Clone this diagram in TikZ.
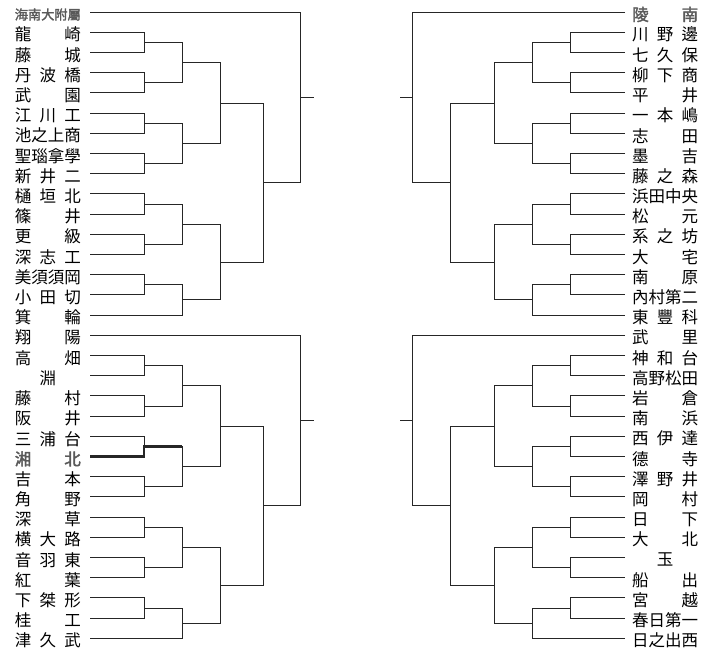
\documentclass[tikz,border=0pt]{standalone}
\usepackage{fontspec}
\setmainfont{Noto Sans CJK JP}
\newfontfamily\hlfont[FakeBold=2]{Noto Sans CJK JP}
\usetikzlibrary{calc,positioning}

\newcommand\hl[1]{{\hlfont\color{black!65}#1}}
% two entries meet in column #3, the winner goes on from #4
\newcommand\bout[4]{%
  \draw[bline] (#1) -- (#1 -| #3) -- (#2 -| #3) -- (#2);
  \coordinate (#4) at ($(#1 -| #3)!.5!(#2 -| #3)$);}

\begin{document}
\begin{tikzpicture}[x=1pt,y=-1pt,
    bline/.style={draw=black!85,line width=0.8pt},
    win/.style={draw=black!85,line width=2.4pt},
    tname/.style={inner sep=0pt,font=\fontsize{16.5}{18}\selectfont,yshift=-2.5pt}]
\useasboundingbox (0,0) rectangle (720,670);
% columns
\coordinate (cL1) at (144,0);
\coordinate (cL2) at (182,0);
\coordinate (cL3) at (220,0);
\coordinate (cL4) at (263,0);
\coordinate (cL5) at (300,0);
\coordinate (oL) at (314,0);
\coordinate (cR1) at (570,0);
\coordinate (cR2) at (532,0);
\coordinate (cR3) at (494,0);
\coordinate (cR4) at (450,0);
\coordinate (cR5) at (412,0);
\coordinate (oR) at (400,0);
% left names
\foreach \nm [count=\i] in {{\makebox[66pt][s]{\fontsize{13.2}{14}\selectfont\hl{海南大附屬}}},
    龍 崎, 藤 城, 丹 波 橋, 武 園, 江 川 工, 池之上商, 聖瑙拿學, 新 井 二,
    樋 垣 北, 篠 井, 更 級, 深 志 工, 美須須岡, 小 田 切, 箕 輪,
    翔 陽, 高 畑, \hfil 淵\hfil, 藤 村, 阪 井, 三 浦 台, \hl{湘 北}, 吉 本,
    角 野, 深 草, 横 大 路, 音 羽 東, 紅 葉, 下 桀 形, 桂 工, 津 久 武} {
  \coordinate (la\i) at (90,{12+20.2*(\i-1)});
  \node[tname,left=9pt of la\i] (L\i) {\makebox[66pt][s]{\nm}};
}
% right names
\foreach \nm [count=\i] in {\hl{陵 南}, 川 野 邊, 七 久 保, 柳 下 商, 平 井,
    一 本 嶋, 志 田, 墨 吉, 藤 之 森, 浜田中央, 松 元, 系 之 坊, 大 宅,
    南 原, 內村第二, 東 豐 科,
    武 里, 神 和 台, 高野松田, 岩 倉, 南 浜, 西 伊 達, 德 寺, 澤 野 井,
    岡 村, 日 下, 大 北, \hfil 玉\hfil, 船 出, 宮 越, 春日第一, 日之出西} {
  \coordinate (ra\i) at (625,{12+20.2*(\i-1)});
  \node[tname,right=7pt of ra\i] (R\i) {\makebox[66pt][s]{\nm}};
}
% left, upper half
\bout{la2}{la3}{cL1}{l1}
\bout{la4}{la5}{cL1}{l2}
\bout{l1}{l2}{cL2}{l3}
\bout{la6}{la7}{cL1}{l4}
\bout{la8}{la9}{cL1}{l5}
\bout{l4}{l5}{cL2}{l6}
\bout{l3}{l6}{cL3}{l7}
\bout{la10}{la11}{cL1}{l8}
\bout{la12}{la13}{cL1}{l9}
\bout{l8}{l9}{cL2}{l10}
\bout{la14}{la15}{cL1}{l11}
\bout{l11}{la16}{cL2}{l12}
\bout{l10}{l12}{cL3}{l13}
\bout{l7}{l13}{cL4}{l14}
\bout{la1}{l14}{cL5}{l15}
\draw[bline] (l15) -- (l15 -| oL);
% left, lower half
\bout{la18}{la19}{cL1}{b1}
\bout{la20}{la21}{cL1}{b2}
\bout{b1}{b2}{cL2}{b3}
\bout{la22}{la23}{cL1}{b4}
\bout{la24}{la25}{cL1}{b5}
\bout{b4}{b5}{cL2}{b6}
\bout{b3}{b6}{cL3}{b7}
\bout{la26}{la27}{cL1}{b8}
\bout{la28}{la29}{cL1}{b9}
\bout{b8}{b9}{cL2}{b10}
\bout{la30}{la31}{cL1}{b11}
\bout{b11}{la32}{cL2}{b12}
\bout{b10}{b12}{cL3}{b13}
\bout{b7}{b13}{cL4}{b14}
\bout{la17}{b14}{cL5}{b15}
\draw[bline] (b15) -- (b15 -| oL);
\draw[win] (la23) -- (la23 -| cL1) -- (b4) -- (b4 -| cL2); % first win
% right, upper half
\bout{ra2}{ra3}{cR1}{r1}
\bout{ra4}{ra5}{cR1}{r2}
\bout{r1}{r2}{cR2}{r3}
\bout{ra6}{ra7}{cR1}{r4}
\bout{ra8}{ra9}{cR1}{r5}
\bout{r4}{r5}{cR2}{r6}
\bout{r3}{r6}{cR3}{r7}
\bout{ra10}{ra11}{cR1}{r8}
\bout{ra12}{ra13}{cR1}{r9}
\bout{r8}{r9}{cR2}{r10}
\bout{ra14}{ra15}{cR1}{r11}
\bout{r11}{ra16}{cR2}{r12}
\bout{r10}{r12}{cR3}{r13}
\bout{r7}{r13}{cR4}{r14}
\bout{ra1}{r14}{cR5}{r15}
\draw[bline] (r15) -- (r15 -| oR);
% right, lower half
\bout{ra18}{ra19}{cR1}{s1}
\bout{ra20}{ra21}{cR1}{s2}
\bout{s1}{s2}{cR2}{s3}
\bout{ra22}{ra23}{cR1}{s4}
\bout{ra24}{ra25}{cR1}{s5}
\bout{s4}{s5}{cR2}{s6}
\bout{s3}{s6}{cR3}{s7}
\bout{ra26}{ra27}{cR1}{s8}
\bout{ra28}{ra29}{cR1}{s9}
\bout{s8}{s9}{cR2}{s10}
\bout{ra30}{ra31}{cR1}{s11}
\bout{s11}{ra32}{cR2}{s12}
\bout{s10}{s12}{cR3}{s13}
\bout{s7}{s13}{cR4}{s14}
\bout{ra17}{s14}{cR5}{s15}
\draw[bline] (s15) -- (s15 -| oR);
\end{tikzpicture}
\end{document}
